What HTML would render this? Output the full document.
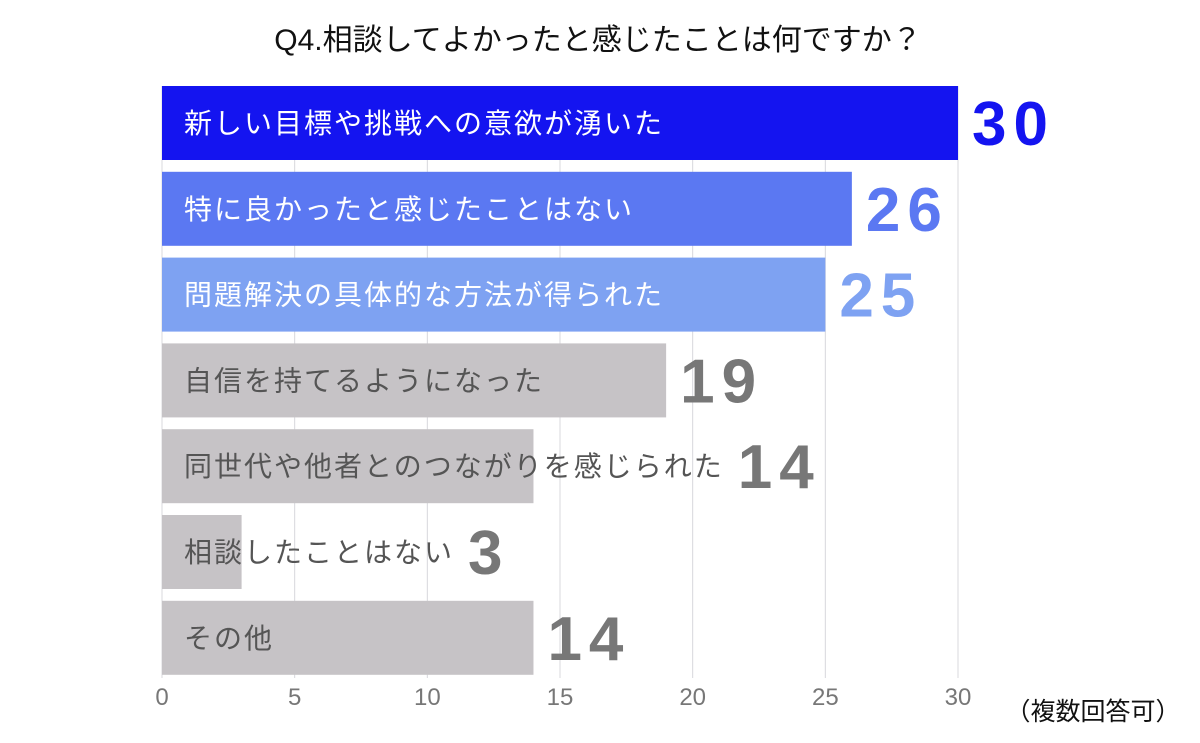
<!DOCTYPE html>
<html><head><meta charset="utf-8">
<style>
body{margin:0;background:#fff;width:1200px;height:738px;overflow:hidden;font-family:"Liberation Sans","Noto Sans CJK JP",sans-serif;}
svg text{font-family:"Liberation Sans","Noto Sans CJK JP",sans-serif;}
</style></head>
<body>
<svg id="chart" width="1200" height="738" xmlns="http://www.w3.org/2000/svg">
<text x="598" y="50" text-anchor="middle" font-size="30" fill="#111">Q4.相談してよかったと感じたことは何ですか？</text>
<g id="grid"></g><g id="bars"></g><g id="ticks"></g>
<text x="1093" y="720" text-anchor="middle" font-size="25" fill="#111">（複数回答可）</text>
</svg>
<script>
const categories=["新しい目標や挑戦への意欲が湧いた","特に良かったと感じたことはない","問題解決の具体的な方法が得られた","自信を持てるようになった","同世代や他者とのつながりを感じられた","相談したことはない","その他"];
const values=[30,26,25,19,14,3,14];
const tickLabels=["0","5","10","15","20","25","30"];
const barColors=["#1414f0","#5b78f2","#7ea2f2","#c6c3c6","#c6c3c6","#c6c3c6","#c6c3c6"];
const textColors=["#fff","#fff","#fff","#555","#555","#555","#555"];
const valColors=["#1414f0","#5b78f2","#7ea2f2","#777","#777","#777","#777"];
const NS="http://www.w3.org/2000/svg";
const x0=162,x1=958,xmax=30,topY=86,pitch=85.8,bh=74;
const xs=v=>x0+(v/xmax)*(x1-x0);
const ys=i=>topY+i*pitch;
function mk(t,a,p){const e=document.createElementNS(NS,t);for(const k in a)e.setAttribute(k,a[k]);p.appendChild(e);return e;}
const grid=document.getElementById('grid'),bars=document.getElementById('bars'),ticks=document.getElementById('ticks');
tickLabels.forEach(t=>{const v=+t;
 const l=mk('line',{x1:xs(v),x2:xs(v),y1:topY,y2:678,stroke:'#d8d8dc','stroke-width':1},grid);
 
 
 const tx=mk('text',{x:xs(v),y:705,'text-anchor':'middle','font-size':24,fill:'#777'},ticks);
 tx.textContent=t;
 
 
});
categories.forEach((c,i)=>{
 const y=ys(i);
 const r=mk('rect',{x:x0,y:y,width:xs(values[i])-x0,height:bh,fill:barColors[i]},bars);
 
 
 const t=mk('text',{x:x0+22,y:y+bh/2+10,'font-size':28,'letter-spacing':2,fill:textColors[i]},bars);
 t.textContent=c;
 
 
 const te=x0+22+t.getComputedTextLength();
 const vx=Math.max(xs(values[i]),te)+14;
 const vt=mk('text',{x:vx,y:y+bh/2+22,'font-size':62,'font-weight':'bold','letter-spacing':7,fill:valColors[i]},bars);
 vt.textContent=values[i];
 
 
});
</script>
</body></html>
